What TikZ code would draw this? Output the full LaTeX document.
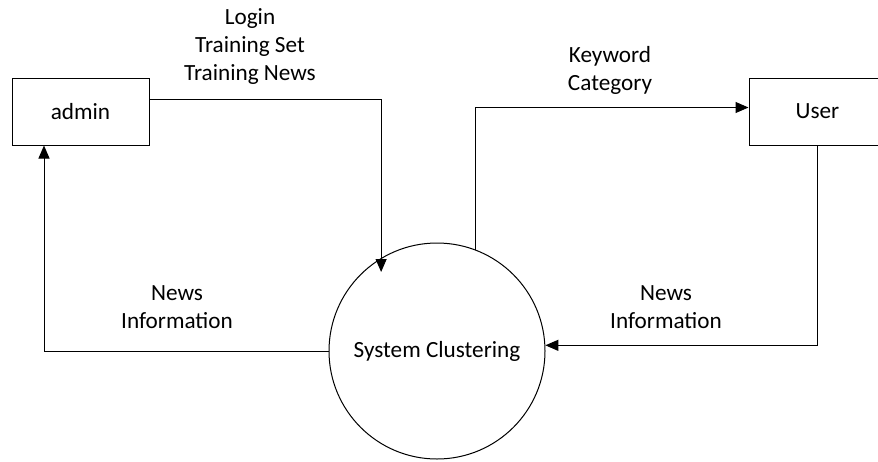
\documentclass[tikz,border=0pt]{standalone}
\usepackage{fontspec}
\setmainfont{Carlito}
\usetikzlibrary{arrows.meta}

\begin{document}
\begin{tikzpicture}[x=1pt,y=-1pt]
    \tikzstyle{every node} = [font=\fontsize{23.2}{28}\selectfont]
    \tikzstyle{entity} = [draw, rectangle, line width=1pt, minimum width=137pt, minimum height=67pt]
    \tikzstyle{process} = [draw, circle, line width=1pt, minimum size=216pt, inner sep=0pt]
    \tikzstyle{flow} = [line width=1pt, -{Triangle[length=13pt,width=11pt]}]
    \tikzstyle{flowlabel} = [align=center, inner sep=0pt]
    \useasboundingbox (0,0) rectangle (878,461);
    \clip (0,0) rectangle (878,461);

    % place nodes
    \node[entity](admin) at (80.5,111.5){admin};
    \node[entity](user) at (817.5,111.5){User};
    \node[process](systemClustering) at (437,351){System Clustering};

    % labels
    \node[flowlabel](loginLabel) at (250,47){Login\\Training Set\\Training News};
    \node[flowlabel](keywordLabel) at (610,70){Keyword\\Category};
    \node[flowlabel](newsAdminLabel) at (177,307){News\\Information};
    \node[flowlabel](newsUserLabel) at (666,307){News\\Information};

    % Connections
    \draw[flow]
    ([yshift=12pt]admin.east) -| ([yshift=-14pt]systemClustering.121);
    \draw[flow]
    (systemClustering.69) |- ([yshift=4pt]user.west);
    \draw[flow]
    (user.south) |- (systemClustering.3);
    \draw[flow]
    (systemClustering.west) -| ([xshift=-36.5pt]admin.south);

  \end{tikzpicture}
\end{document}
